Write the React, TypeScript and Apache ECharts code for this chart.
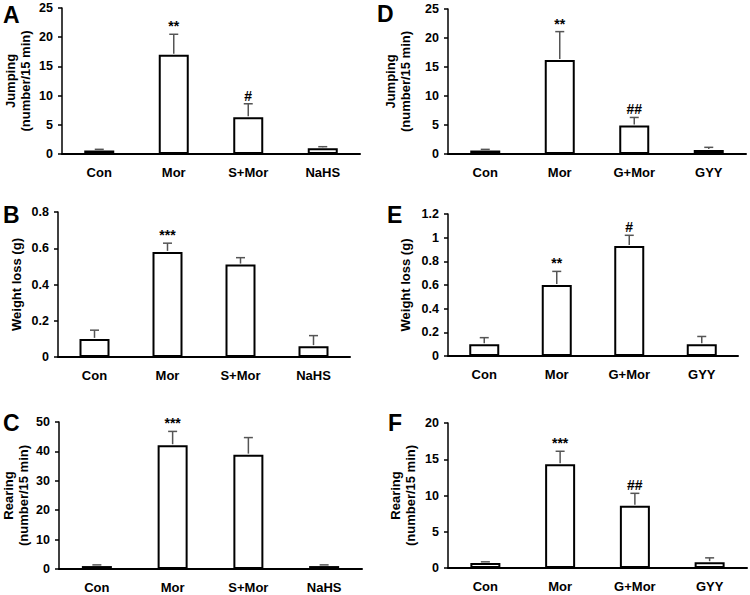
import React, { useEffect, useRef } from "react";
import * as echarts from "echarts";

const catsLeft = ["Con", "Mor", "S+Mor", "NaHS"];
const catsRight = ["Con", "Mor", "G+Mor", "GYY"];

const jumpingA = [0.6, 17.0, 6.3, 1.0];
const jumpingAErr = [0.8, 20.5, 8.6, 1.25];
const jumpingASig = ["", "**", "#", ""];

const weightB = [0.1, 0.58, 0.51, 0.06];
const weightBErr = [0.148, 0.628, 0.548, 0.118];
const weightBSig = ["", "***", "", ""];

const rearingC = [1.0, 42.1, 38.9, 1.0];
const rearingCErr = [1.4, 46.8, 44.7, 1.4];
const rearingCSig = ["", "***", "", ""];

const jumpingD = [0.6, 16.2, 4.9, 0.7];
const jumpingDErr = [0.8, 21.1, 6.3, 1.15];
const jumpingDSig = ["", "**", "##", ""];

const weightE = [0.1, 0.6, 0.93, 0.1];
const weightEErr = [0.155, 0.715, 1.02, 0.165];
const weightESig = ["", "**", "#", ""];

const rearingF = [0.7, 14.3, 8.6, 0.8];
const rearingFErr = [0.85, 16.1, 10.3, 1.4];
const rearingFSig = ["", "***", "##", ""];

const FONT = "'Liberation Sans', Arial, Helvetica, sans-serif";

const panels = [
  { letter: "A", lx: 3, ly: 3, cats: catsLeft, vals: jumpingA, errs: jumpingAErr, sig: jumpingASig, name: "Jumping\n(number/15 min)", max: 25, interval: 5, grid: { left: 62, right: 390, top: 8, bottom: 441 }, nameGap: 29 },
  { letter: "B", lx: 3, ly: 203, cats: catsLeft, vals: weightB, errs: weightBErr, sig: weightBSig, name: "Weight loss (g)", max: 0.8, interval: 0.2, grid: { left: 58, right: 400, top: 212, bottom: 238 }, nameGap: 34 },
  { letter: "C", lx: 3, ly: 411, cats: catsLeft, vals: rearingC, errs: rearingCErr, sig: rearingCSig, name: "Rearing\n(number/15 min)", max: 50, interval: 10, grid: { left: 59, right: 388, top: 422, bottom: 26 }, nameGap: 28 },
  { letter: "D", lx: 377, ly: 2, cats: catsRight, vals: jumpingD, errs: jumpingDErr, sig: jumpingDSig, name: "Jumping\n(number/15 min)", max: 25, interval: 5, grid: { left: 448, right: 4, top: 9, bottom: 441 }, nameGap: 35 },
  { letter: "E", lx: 387, ly: 203, cats: catsRight, vals: weightE, errs: weightEErr, sig: weightESig, name: "Weight loss (g)", max: 1.2, interval: 0.2, grid: { left: 448, right: 12, top: 214, bottom: 239 }, nameGap: 35 },
  { letter: "F", lx: 388, ly: 411, cats: catsRight, vals: rearingF, errs: rearingFErr, sig: rearingFSig, name: "Rearing\n(number/15 min)", max: 20, interval: 5, grid: { left: 448, right: 3, top: 423, bottom: 27 }, nameGap: 30 },
];

export default function App() {
  const ref = useRef<HTMLDivElement>(null);
  useEffect(() => {
    if (!ref.current) return;
    const chart = echarts.init(ref.current, undefined, { renderer: "svg" });
    const grid: any[] = [];
    const xAxis: any[] = [];
    const yAxis: any[] = [];
    const series: any[] = [];
    const graphic: any[] = [];
    panels.forEach((p, i) => {
      grid.push({ ...p.grid, containLabel: false });
      xAxis.push({
        type: "category",
        gridIndex: i,
        data: p.cats,
        boundaryGap: true,
        axisLine: { show: true, lineStyle: { color: "#000", width: 2 } },
        axisTick: { show: false },
        axisLabel: { color: "#000", fontFamily: FONT, fontWeight: "bold", fontSize: 13, margin: 12 },
        splitLine: { show: false },
      });
      yAxis.push({
        type: "value",
        gridIndex: i,
        min: 0,
        max: p.max,
        interval: p.interval,
        name: p.name,
        nameLocation: "middle",
        nameRotate: 90,
        nameGap: p.nameGap,
        nameTextStyle: { color: "#000", fontFamily: FONT, fontWeight: "bold", fontSize: 13, lineHeight: 15 },
        axisLine: { show: true, lineStyle: { color: "#000", width: 1.5 } },
        axisTick: { show: true, inside: false, length: 4, lineStyle: { color: "#000", width: 1.5 } },
        axisLabel: { color: "#000", fontFamily: FONT, fontWeight: "bold", fontSize: 12.5, margin: 9 },
        splitLine: { show: false },
      });
      series.push({
        type: "bar",
        xAxisIndex: i,
        yAxisIndex: i,
        data: p.vals,
        barWidth: 30,
        itemStyle: { color: "#fff", borderColor: "#000", borderWidth: 2 },
        z: 2,
      });
      const sig = p.sig;
      series.push({
        type: "custom",
        xAxisIndex: i,
        yAxisIndex: i,
        data: p.vals.map((v, k) => [k, v, p.errs[k]]),
        encode: { x: 0, y: [1, 2] },
        z: 3,
        renderItem: (params: any, api: any) => {
          const idx = api.value(0);
          const base = api.coord([idx, api.value(1)]);
          const top = api.coord([idx, api.value(2)]);
          const children: any[] = [
            { type: "line", shape: { x1: base[0], y1: base[1] - 1, x2: top[0], y2: top[1] }, style: { stroke: "#555", lineWidth: 1.5 } },
            { type: "line", shape: { x1: top[0] - 4.5, y1: top[1], x2: top[0] + 4.5, y2: top[1] }, style: { stroke: "#555", lineWidth: 1.5 } },
          ];
          const s = sig[params.dataIndex];
          if (s) {
            children.push({
              type: "text",
              style: {
                text: s,
                x: top[0],
                y: top[1] - 1,
                textAlign: "center",
                textVerticalAlign: "bottom",
                fill: "#000",
                font: `bold 14px ${FONT}`,
              },
            });
          }
          return { type: "group", children };
        },
      });
      graphic.push({
        type: "text",
        left: p.lx,
        top: p.ly,
        style: { text: p.letter, fill: "#000", font: `bold 23px ${FONT}` },
      });
    });
    chart.setOption({
      animation: false,
      backgroundColor: "#fff",
      grid,
      xAxis,
      yAxis,
      series,
      graphic,
    });
    return () => chart.dispose();
  }, []);
  return <div ref={ref} style={{ width: 750, height: 595, position: "absolute", left: 0, top: 0 }} />;
}
